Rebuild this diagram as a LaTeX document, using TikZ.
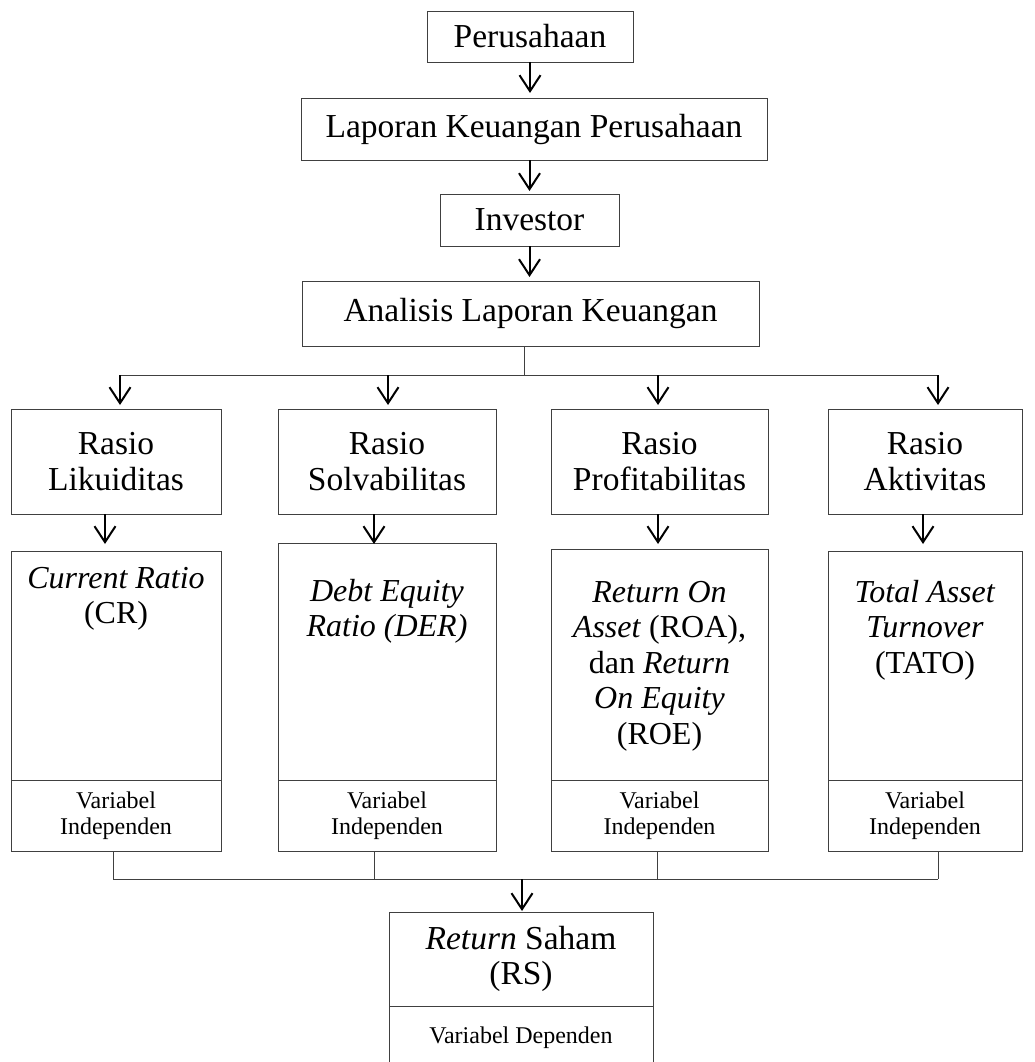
\documentclass[tikz,border=0pt]{standalone}
\usepackage{fontspec}
\setmainfont{Liberation Serif}
\usetikzlibrary{arrows.meta}
\newcommand{\mybig}{\fontsize{33.5}{35.5}\selectfont}
\newcommand{\mymid}{\fontsize{32}{35.5}\selectfont}
\newcommand{\mysmall}{\fontsize{24}{26.5}\selectfont}
\begin{document}
\begin{tikzpicture}[x=1pt,y=-1pt,
  box/.style={draw=black!75, line width=0.9pt, inner sep=0pt, outer sep=0pt,
    anchor=north west, align=center, font=\mybig},
  smallbox/.style={box, font=\mysmall},
  lab/.style={inner sep=0pt, outer sep=0pt, align=center, font=\mymid, anchor=north},
  arr/.style={line width=2pt, -{Straight Barb[length=16pt,width=21pt]}},
  conn/.style={draw=black!75, line width=0.9pt}]
\useasboundingbox (0,0) rectangle (1035,1062);

% top chain
\node[box, minimum width=206pt, minimum height=51pt] (p) at (427,11) {Perusahaan};
\node[box, minimum width=466pt, minimum height=62pt] (lk) at (301,98) {Laporan Keuangan Perusahaan};
\node[box, minimum width=179pt, minimum height=52pt] (inv) at (440,194) {Investor};
\node[box, minimum width=457pt, minimum height=65pt] (alk) at (302,281) {Analisis Laporan Keuangan};

\draw[arr, shorten >=5pt] (p.south) -- (p.south |- lk.north);
\draw[arr, shorten >=3pt] (inv.north |- lk.south) -- (inv.north);
\draw[arr, shorten >=4pt] (inv.south) -- (inv.south |- alk.north);

% rasio boxes
\node[box, minimum width=210pt, minimum height=105pt] (r1) at (11,409) {Rasio\\Likuiditas};
\node[box, minimum width=218pt, minimum height=105pt] (r2) at (278,409) {Rasio\\Solvabilitas};
\node[box, minimum width=217pt, minimum height=105pt] (r3) at (551,409) {Rasio\\Profitabilitas};
\node[box, minimum width=194pt, minimum height=105pt] (r4) at (828,409) {Rasio\\Aktivitas};

% top bus
\coordinate (bus) at (524,375);
\coordinate (b1) at (120,375);
\coordinate (b2) at (388,375);
\coordinate (b3) at (658,375);
\coordinate (b4) at (938,375);
\draw[conn] (alk.south -| bus) -- (bus);
\draw[conn] (b1) -- (b4);
\foreach \i in {1,2,3,4}{
  \draw[arr, shorten >=4pt] (b\i) -- (b\i |- r\i.north);
}

% lower boxes
\node[box, minimum width=210pt, minimum height=229pt] (v1) at (11,551) {};
\node[box, minimum width=218pt, minimum height=237pt] (v2) at (278,543) {};
\node[box, minimum width=217pt, minimum height=231pt] (v3) at (551,549) {};
\node[box, minimum width=194pt, minimum height=229pt] (v4) at (828,551) {};

\node[lab] (t1) at (116,567) {\textit{Current Ratio}\\(CR)};
\node[lab] (t2) at (387,579) {\textit{Debt Equity}\\\textit{Ratio (DER)}};
\node[lab] (t3) at (659.5,581) {\textit{Return On}\\\textit{Asset} (ROA),\\dan \textit{Return}\\\textit{On Equity}\\(ROE)};
\node[lab] (t4) at (925,580) {\textit{Total Asset}\\\textit{Turnover}\\(TATO)};

\node[smallbox, minimum width=210pt, minimum height=71pt] (d1) at (11,780) {Variabel\\Independen};
\node[smallbox, minimum width=218pt, minimum height=71pt] (d2) at (278,780) {Variabel\\Independen};
\node[smallbox, minimum width=217pt, minimum height=71pt] (d3) at (551,780) {Variabel\\Independen};
\node[smallbox, minimum width=194pt, minimum height=71pt] (d4) at (828,780) {Variabel\\Independen};

% arrows rasio -> lower
\coordinate (a1) at (105,544);
\coordinate (a2) at (374,544);
\coordinate (a3) at (658,544);
\coordinate (a4) at (923,544);
\foreach \i in {1,2,3,4}{
  \draw[arr] (r\i.south -| a\i) -- (a\i);
}

% lower bus
\coordinate (c1) at (113,879);
\coordinate (c2) at (374,879);
\coordinate (c3) at (657,879);
\coordinate (c4) at (938,879);
\coordinate (cm) at (522,879);
\foreach \i in {1,2,3,4}{
  \draw[conn] (c\i |- d\i.south) -- (c\i);
}
\draw[conn] (c1) -- (c4);

% return saham
\node[box, minimum width=264pt, minimum height=94pt] (rs) at (389,912) {\textit{Return} Saham\\(RS)};
\node[smallbox, minimum width=264pt, minimum height=64pt] (rsd) at (389,1006) {Variabel Dependen};
\draw[arr, shorten >=1pt] (cm) -- (cm |- rs.north);
\end{tikzpicture}
\end{document}
